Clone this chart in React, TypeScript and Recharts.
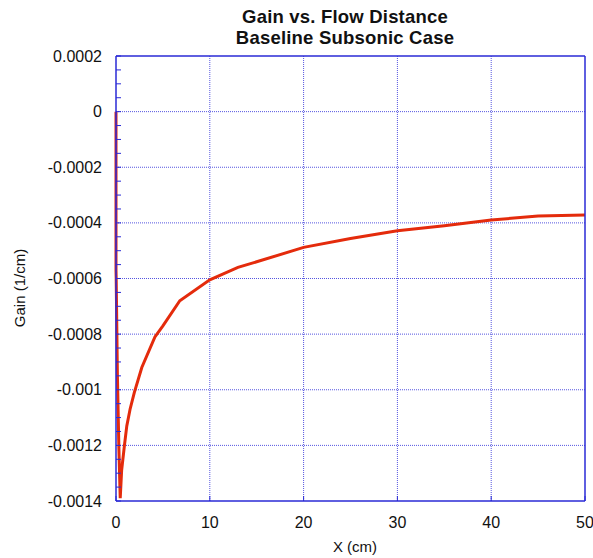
import React from 'react';
import { LineChart, Line, XAxis, YAxis, ReferenceLine } from 'recharts';

// distance along the flow (cm)
const xValues = [
  0, 0, 0.02, 0.15, 0.3, 0.45, 0.6, 0.9, 1.15, 1.5, 1.95, 2.75, 4.15, 5, 6.8,
  10, 13, 15, 20, 25, 30, 35, 40, 45, 50
];
// gain (1/cm)
const gainValues = [
  0, -0.00057, -0.0006, -0.00095, -0.0012, -0.00139, -0.00129, -0.0012, -0.00113,
  -0.00107, -0.00101, -0.00092, -0.00081, -0.00077, -0.00068, -0.000605,
  -0.00056, -0.00054, -0.000488, -0.000456, -0.000428, -0.00041, -0.00039,
  -0.000375, -0.000372
];

const xTicks = [0, 10, 20, 30, 40, 50];
const yMajorTicks = [
  0.0002, 0, -0.0002, -0.0004, -0.0006, -0.0008, -0.001, -0.0012, -0.0014
];

const data = xValues.map((x, i) => ({ x, gain: gainValues[i] }));

// minor ticks every 0.00005 between the majors
const yMinorTicks: number[] = [];
for (let i = 0; i <= 32; i++) {
  yMinorTicks.push(Number((-0.0014 + i * 0.00005).toFixed(6)));
}

const AXIS = '#2a2ad6';
const GRID = '#5555e0';
const FONT = '"Liberation Sans", Arial, sans-serif';
const TICK_FONT = 16;

const isMajor = (v: number) => yMajorTicks.some(m => Math.abs(m - v) < 1e-9);

const LeftTick = (props: any) => {
  const { x, y, payload } = props;
  const v = payload.value;
  return (
    <g>
      <line x1={x} y1={y} x2={x + 5} y2={y} stroke={AXIS} strokeWidth={1} />
      {isMajor(v) && (
        <text x={x - 14} y={y} dy="0.35em" textAnchor="end" fontSize={TICK_FONT} fill="#111" fontFamily={FONT}>
          {String(Number(v.toPrecision(6)))}
        </text>
      )}
    </g>
  );
};

const RightTick = (props: any) => {
  const { x, y } = props;
  return <line x1={x} y1={y} x2={x - 5} y2={y} stroke={AXIS} strokeWidth={1} />;
};

const BottomTick = (props: any) => {
  const { x, y, payload } = props;
  return (
    <g>
      <line x1={x} y1={y} x2={x} y2={y - 5} stroke={AXIS} strokeWidth={1} />
      <text x={x} y={y + 21} dy="0.35em" textAnchor="middle" fontSize={TICK_FONT} fill="#111" fontFamily={FONT}>
        {payload.value}
      </text>
    </g>
  );
};

export default function App() {
  return (
    <div style={{ position: 'absolute', left: 0, top: 0, width: 593, height: 558, fontFamily: FONT, background: '#fff' }}>
      <div style={{ position: 'absolute', left: 0, width: 690, top: 6, textAlign: 'center', fontWeight: 'bold', fontSize: 18.5, lineHeight: '21px', letterSpacing: 0.2, color: '#111' }}>
        Gain vs. Flow Distance
        <br />
        Baseline Subsonic Case
      </div>
      <div style={{ position: 'absolute', left: 0, width: 710, top: 538, textAlign: 'center', fontSize: 15, color: '#111' }}>
        X (cm)
      </div>
      <div style={{ position: 'absolute', left: 19, top: 288, transform: 'translate(-50%, -50%) rotate(-90deg)', whiteSpace: 'nowrap', fontSize: 15, color: '#111' }}>
        Gain (1/cm)
      </div>
      <LineChart width={593} height={558} data={data} margin={{ top: 55, right: 7, bottom: 0, left: 0 }}>
        <XAxis
          dataKey="x"
          type="number"
          domain={[0, 50]}
          ticks={xTicks}
          height={57}
          tickSize={0}
          tickMargin={0}
          tickLine={false}
          axisLine={{ stroke: AXIS, strokeWidth: 1.5 }}
          tick={<BottomTick />}
        />
        <XAxis
          xAxisId="top"
          orientation="top"
          type="number"
          domain={[0, 50]}
          ticks={xTicks}
          height={1}
          tickSize={0}
          tick={false}
          tickLine={false}
          axisLine={{ stroke: AXIS, strokeWidth: 1.5 }}
        />
        <YAxis
          type="number"
          domain={[-0.0014, 0.0002]}
          ticks={yMinorTicks}
          interval={0}
          width={116}
          tickSize={0}
          tickMargin={0}
          tickLine={false}
          axisLine={{ stroke: AXIS, strokeWidth: 1.5 }}
          tick={<LeftTick />}
        />
        <YAxis
          yAxisId="right"
          orientation="right"
          type="number"
          domain={[-0.0014, 0.0002]}
          ticks={yMinorTicks}
          interval={0}
          width={1}
          tickSize={0}
          tickMargin={0}
          tickLine={false}
          axisLine={{ stroke: AXIS, strokeWidth: 1.5 }}
          tick={<RightTick />}
        />
        {xTicks.slice(1, -1).map(v => (
          <ReferenceLine key={`vx-${v}`} x={v} stroke={GRID} strokeDasharray="1 1" strokeWidth={1} />
        ))}
        {yMajorTicks.slice(1, -1).map(v => (
          <ReferenceLine key={`hy-${v}`} y={v} stroke={GRID} strokeDasharray="1 1" strokeWidth={1} />
        ))}
        <Line
          type="linear"
          dataKey="gain"
          stroke="#e42b0c"
          strokeWidth={3}
          dot={false}
          isAnimationActive={false}
        />
      </LineChart>
    </div>
  );
}
